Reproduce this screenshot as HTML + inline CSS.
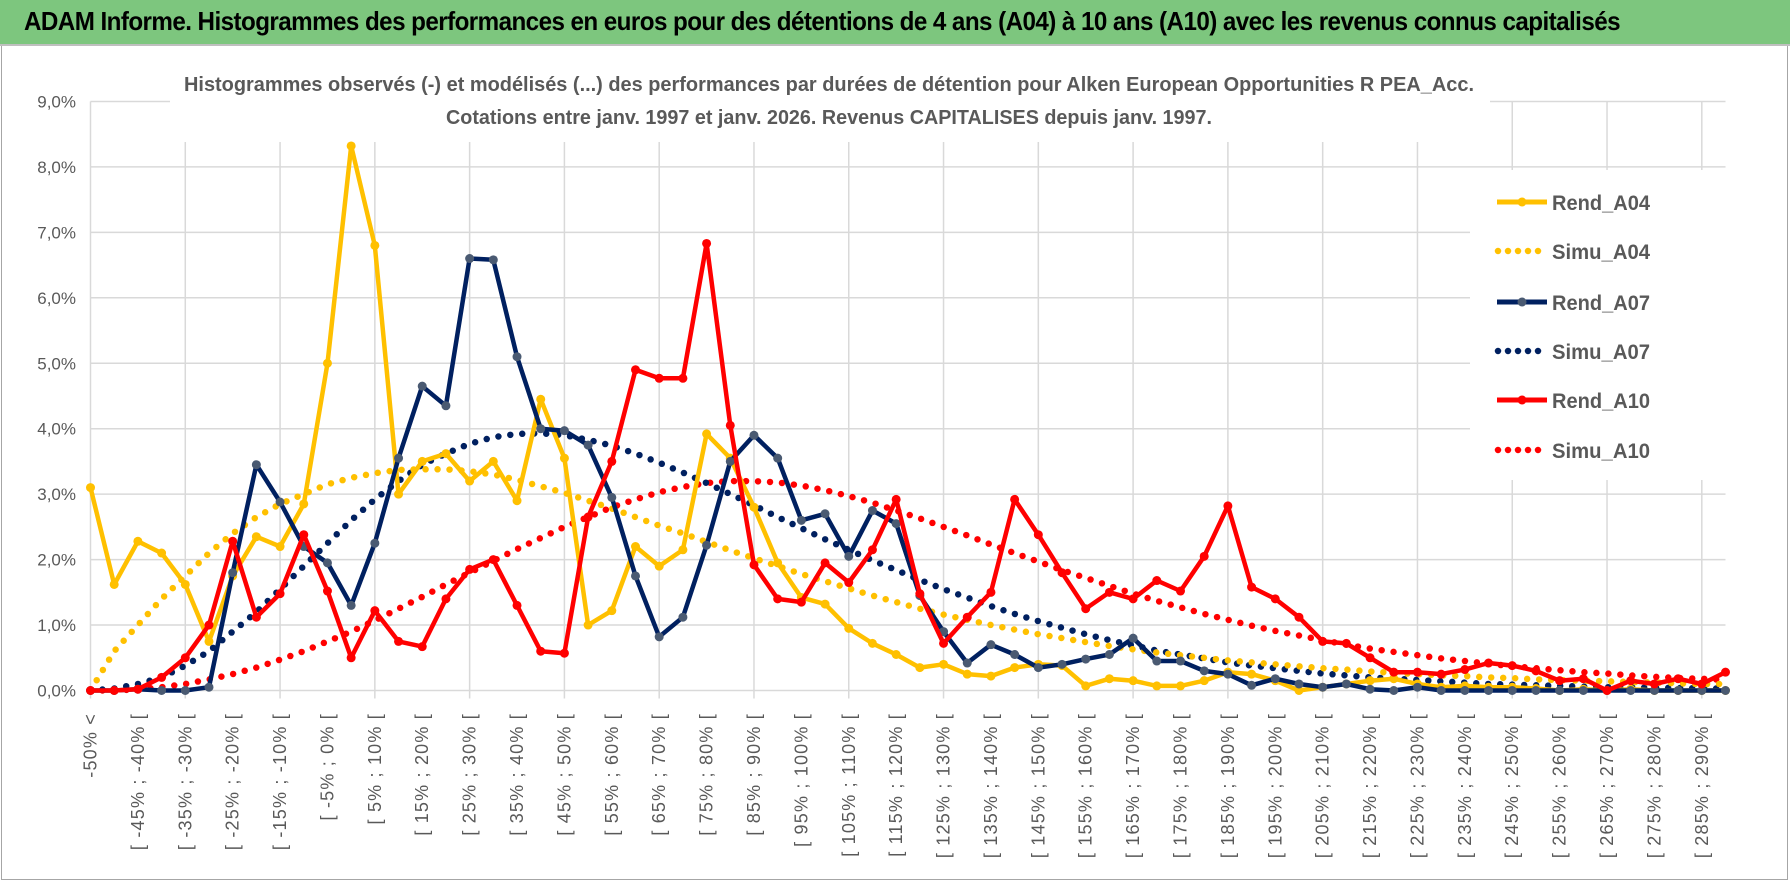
<!DOCTYPE html>
<html><head><meta charset="utf-8">
<style>
html,body{margin:0;padding:0;background:#fff;width:1790px;height:888px;overflow:hidden;font-family:"Liberation Sans",sans-serif;}
#hdr{position:absolute;left:0;top:0;width:1790px;height:44px;background:#7dc67e;border-bottom:2px solid #bfbfbf;}
#hdr span{position:absolute;left:24px;top:6px;font-size:26px;font-weight:bold;color:#000;letter-spacing:-0.6px;white-space:nowrap;transform:scaleX(0.93);transform-origin:left;}
#frame{position:absolute;left:1px;top:46px;width:1785px;height:833px;border:1px solid #a6a6a6;border-top:none;}
svg{position:absolute;left:0;top:0;}
</style></head><body>
<div id="hdr"><span>ADAM Informe. Histogrammes des performances en euros pour des détentions de 4 ans (A04) à 10 ans (A10) avec les revenus connus capitalisés</span></div>
<div id="frame"></div>
<svg id="chart" width="1790" height="888"></svg>
<script>
const rendA04=[3.1,1.62,2.28,2.1,1.62,0.75,1.75,2.35,2.2,2.85,5.0,8.32,6.8,3.0,3.5,3.62,3.2,3.5,2.9,4.45,3.55,1.0,1.22,2.2,1.9,2.15,3.92,3.55,2.8,1.95,1.42,1.32,0.95,0.72,0.55,0.35,0.4,0.25,0.22,0.35,0.4,0.38,0.07,0.18,0.15,0.07,0.07,0.15,0.28,0.25,0.15,0.0,0.05,0.1,0.15,0.18,0.1,0.05,0.07,0.05,0.05,0.03,0.0,0.02,0.0,0.02,0.0,0.0,0.0,0.0];
const simuA04=[0,0.6,1.0,1.4,1.75,2.1,2.4,2.65,2.85,3.0,3.15,3.25,3.32,3.37,3.38,3.38,3.35,3.3,3.22,3.12,3.02,2.9,2.78,2.65,2.52,2.4,2.27,2.14,2.02,1.9,1.78,1.67,1.56,1.45,1.35,1.25,1.16,1.08,1.0,0.93,0.86,0.8,0.74,0.68,0.63,0.58,0.54,0.5,0.46,0.43,0.4,0.37,0.34,0.32,0.29,0.27,0.25,0.23,0.22,0.2,0.19,0.17,0.16,0.15,0.14,0.13,0.12,0.11,0.1,0.1];
const rendA07=[0,0,0.02,0,0,0.05,1.8,3.45,2.88,2.2,1.95,1.3,2.25,3.55,4.65,4.35,6.6,6.58,5.1,4.0,3.97,3.75,2.95,1.75,0.82,1.12,2.22,3.5,3.9,3.55,2.6,2.7,2.05,2.75,2.55,1.45,0.9,0.42,0.7,0.55,0.35,0.4,0.48,0.55,0.8,0.45,0.45,0.3,0.25,0.08,0.18,0.1,0.05,0.1,0.02,0,0.05,0,0,0,0,0,0,0,0,0,0,0,0,0];
const simuA07=[0,0.03,0.1,0.2,0.38,0.6,0.9,1.2,1.55,1.9,2.25,2.6,2.92,3.2,3.45,3.62,3.77,3.87,3.92,3.93,3.9,3.83,3.74,3.62,3.48,3.33,3.17,3.0,2.83,2.65,2.48,2.31,2.15,1.99,1.84,1.69,1.55,1.42,1.29,1.17,1.06,0.96,0.86,0.77,0.69,0.61,0.55,0.49,0.43,0.38,0.34,0.3,0.26,0.23,0.2,0.18,0.16,0.14,0.12,0.1,0.09,0.08,0.07,0.06,0.05,0.05,0.04,0.04,0.03,0.03];
const rendA10=[0,0,0.02,0.2,0.5,1.0,2.28,1.12,1.48,2.38,1.52,0.5,1.22,0.75,0.67,1.4,1.85,2.0,1.3,0.6,0.57,2.65,3.5,4.9,4.77,4.77,6.83,4.05,1.92,1.4,1.35,1.95,1.65,2.15,2.92,1.48,0.72,1.12,1.5,2.92,2.38,1.8,1.25,1.5,1.4,1.68,1.52,2.05,2.82,1.58,1.4,1.12,0.75,0.72,0.5,0.28,0.28,0.25,0.32,0.42,0.38,0.3,0.15,0.18,0.0,0.15,0.1,0.18,0.1,0.28];
const simuA10=[0,0,0.02,0.05,0.1,0.17,0.25,0.35,0.47,0.6,0.75,0.9,1.07,1.25,1.43,1.62,1.8,1.98,2.16,2.33,2.5,2.65,2.8,2.92,3.03,3.11,3.17,3.2,3.2,3.18,3.13,3.06,2.97,2.87,2.75,2.63,2.5,2.37,2.23,2.1,1.97,1.84,1.72,1.6,1.48,1.37,1.27,1.17,1.08,0.99,0.91,0.84,0.77,0.7,0.64,0.59,0.54,0.49,0.45,0.41,0.37,0.34,0.31,0.28,0.26,0.23,0.21,0.19,0.18,0.16];
const yTicks=["0,0%","1,0%","2,0%","3,0%","4,0%","5,0%","6,0%","7,0%","8,0%","9,0%"];
const categories=["-50% <"];
for(let lo=-50;lo<295;lo+=5){categories.push("[ "+lo+"% ; "+(lo+5)+"% [");}
const legendNames=["Rend_A04","Simu_A04","Rend_A07","Simu_A07","Rend_A10","Simu_A10"];

const NS="http://www.w3.org/2000/svg";
const svg=document.getElementById('chart');
const X0=90.5,X1=1725.5,Y0=690.5,PER=65.45;
const n=categories.length;
function xs(i){return X0+(X1-X0)*i/(n-1);}
function ys(v){return Y0-v*PER;}
function el(tag,attrs,parent){const e=document.createElementNS(NS,tag);for(const k in attrs)e.setAttribute(k,attrs[k]);(parent||svg).appendChild(e);return e;}

for(let k=0;k<yTicks.length;k++){
  const g=el('line',{x1:X0,x2:X1,y1:ys(k),y2:ys(k),stroke:'#d9d9d9','stroke-width':1.5});
  
  
  const t=el('text',{x:76,y:ys(k)+6,'text-anchor':'end','font-size':17,fill:'#595959'});
  t.textContent=yTicks[k];
  
  
}
for(let i=0;i<n;i+=4){
  const g=el('line',{x1:xs(i),x2:xs(i),y1:ys(9),y2:Y0+8,stroke:'#d9d9d9','stroke-width':1.5});
  
  
}
for(let i=0;i<n;i+=2){
  const x=xs(i)+6,y=713;
  const t=el('text',{x:x,y:y,'text-anchor':'end','font-size':18,fill:'#595959',transform:'rotate(-90 '+x+' '+y+')','letter-spacing':'1.2'});
  t.textContent=categories[i];
  
  
}
const sb=el('rect',{x:170,y:60,width:1320,height:82,fill:'#fff'});


const st1=el('text',{x:829,y:91,'text-anchor':'middle','font-size':20,'font-weight':'bold',fill:'#595959',textLength:1290,lengthAdjust:'spacingAndGlyphs'});
st1.textContent="Histogrammes observés (-) et modélisés (...) des performances par durées de détention pour Alken European Opportunities R PEA_Acc.";


const st2=el('text',{x:829,y:124,'text-anchor':'middle','font-size':20,'font-weight':'bold',fill:'#595959',textLength:766,lengthAdjust:'spacingAndGlyphs'});
st2.textContent="Cotations entre janv. 1997 et janv. 2026. Revenus CAPITALISES depuis janv. 1997.";



function pts(arr){return arr.map((v,i)=>xs(i).toFixed(1)+','+ys(v).toFixed(1)).join(' ');}
function dotted(arr,color,name){
  const p=el('polyline',{points:pts(arr),fill:'none',stroke:color,'stroke-width':6.5,'stroke-linecap':'round','stroke-dasharray':'0 12'});
  
  
}
function solid(arr,color,mk,name){
  const g=el('g',{});
  
  
  el('polyline',{points:pts(arr),fill:'none',stroke:color,'stroke-width':4.5,'stroke-linejoin':'round'},g);
  arr.forEach((v,i)=>{
    const c=el('circle',{cx:xs(i),cy:ys(v),r:4.5,fill:mk},g);
    
    
  });
}
dotted(simuA10,'#ff0000','series-simu-a10');
dotted(simuA07,'#002060','series-simu-a07');
dotted(simuA04,'#ffc000','series-simu-a04');
solid(rendA04,'#ffc000','#ffc000','series-rend-a04');
solid(rendA07,'#002060','#4a5a72','series-rend-a07');
solid(rendA10,'#ff0000','#ff0000','series-rend-a10');

const lb=el('rect',{x:1470,y:170,width:268,height:310,fill:'#fff'});


const lcol=['#ffc000','#ffc000','#002060','#002060','#ff0000','#ff0000'];
const ly=[202,251,302,351,400,450];
legendNames.forEach((nm,k)=>{
  const g=el('g',{});
  
  
  if(k%2===0){
    el('line',{x1:1497,x2:1547,y1:ly[k],y2:ly[k],stroke:lcol[k],'stroke-width':5},g);
    el('circle',{cx:1522,cy:ly[k],r:4.5,fill:k===2?'#4a5a72':lcol[k]},g);
  } else {
    el('line',{x1:1498,x2:1548,y1:ly[k],y2:ly[k],stroke:lcol[k],'stroke-width':6.5,'stroke-linecap':'round','stroke-dasharray':'0 10'},g);
  }
  const t=el('text',{x:1552,y:ly[k]+8,'font-size':21,'font-weight':'bold',fill:'#595959',textLength:98,lengthAdjust:'spacingAndGlyphs'},g);
  t.textContent=nm;
});
</script>
</body></html>
